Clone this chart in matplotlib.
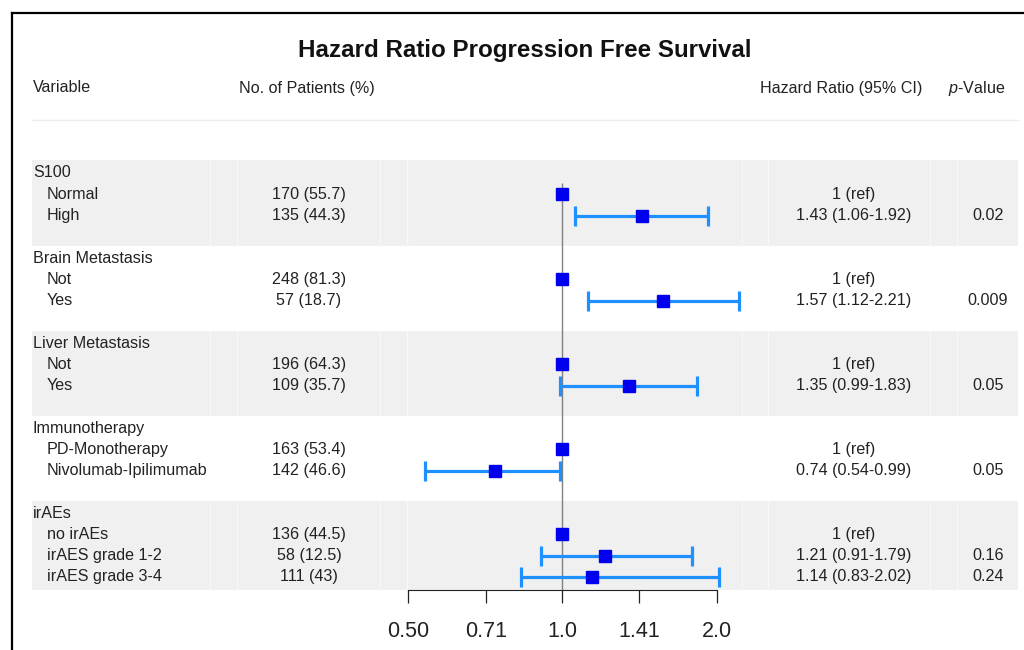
import numpy as np
import matplotlib
matplotlib.use("Agg")
from matplotlib import pyplot as plt
from matplotlib.lines import Line2D

plt.rcParams["font.family"] = ["Liberation Sans", "DejaVu Sans"]
plt.rcParams["mathtext.fontset"] = "custom"
plt.rcParams["mathtext.rm"] = "Liberation Sans"
plt.rcParams["mathtext.it"] = "Liberation Sans:italic"

# table content
groups = ["S100", "Brain Metastasis", "Liver Metastasis", "Immunotherapy", "irAEs"]
levels = [["Normal", "High"],
          ["Not", "Yes"],
          ["Not", "Yes"],
          ["PD-Monotherapy", "Nivolumab-Ipilimumab"],
          ["no irAEs", "irAES grade 1-2", "irAES grade 3-4"]]
patients = [["170 (55.7)", "135 (44.3)"],
            ["248 (81.3)", "57 (18.7)"],
            ["196 (64.3)", "109 (35.7)"],
            ["163 (53.4)", "142 (46.6)"],
            ["136 (44.5)", "58 (12.5)", "111 (43)"]]
# hazard ratios vs. the first (reference) level of each variable
hr = [[1.43], [1.57], [1.35], [0.74], [1.21, 1.14]]
hr_lo = [[1.06], [1.12], [0.99], [0.54], [0.91, 0.83]]
hr_hi = [[1.92], [2.21], [1.83], [0.99], [1.79, 2.02]]
pvals = [["0.02"], ["0.009"], ["0.05"], ["0.05"], ["0.16", "0.24"]]

xticks = [0.5, 0.71, 1.0, 1.41, 2.0]
xtick_labels = ["0.50", "0.71", "1.0", "1.41", "2.0"]

txt_color = "#222222"
band_color = "#f0f0f0"
ci_color = "#1e90ff"
pt_color = "#0000ee"
fs = 11.6

# row numbers: group label, its levels, then a blank row
rows = []
r = 0
for g, lv in zip(groups, levels):
    rows.append((r, list(range(r + 1, r + 1 + len(lv)))))
    r += len(lv) + 2
axis_row = rows[-1][1][-1] + 0.6

# y runs in row units, x in pixels across the figure
px_row = 21.26
y_top = -173 / px_row
y_bot = (650 - 173) / px_row

fig = plt.figure(figsize=(10.24, 6.5), dpi=100)
bg = fig.add_axes([0, 0, 1, 1])
bg.set_xlim(0, 1024)
bg.set_ylim(y_bot, y_top)
bg.axis("off")

# alternating group bands
for i, (r0, lv_rows) in enumerate(rows):
    top = r0 - (0.6 if i == 0 else 0.55)
    bottom = rows[i + 1][0] - 0.55 if i + 1 < len(rows) else axis_row
    if i % 2 == 0:
        bg.fill_between([32, 1018], top, bottom, color=band_color, lw=0, zorder=0)
        for xs in [210, 237, 380, 407, 742, 768, 930, 957]:
            bg.plot([xs, xs], [top, bottom], color="#f8f8f8", lw=0.8, zorder=0.5)

# outer frame (top and left edges)
bg.add_line(Line2D([12, 1024], [13 / px_row + y_top] * 2, color="black", lw=1.6))
bg.add_line(Line2D([12, 12], [13 / px_row + y_top, y_bot], color="black", lw=1.6))

# title and header
bg.text(525, (51 - 173) / px_row, "Hazard Ratio Progression Free Survival",
        ha="center", va="center", fontsize=17.4, fontweight="bold", color="#111111")
hy = (88 - 173) / px_row
bg.text(33, hy, "Variable", ha="left", va="center", fontsize=fs, color=txt_color)
bg.text(239, hy, "No. of Patients (%)", ha="left", va="center", fontsize=fs, color=txt_color)
bg.text(760, hy, "Hazard Ratio (95% CI)", ha="left", va="center", fontsize=fs, color=txt_color)
bg.text(948, hy, r"$p$-Value", ha="left", va="center", fontsize=fs, color=txt_color)
bg.plot([32, 1018], [(120 - 173) / px_row] * 2, color="#ececec", lw=1)

# text columns
for i, (r0, lv_rows) in enumerate(rows):
    bg.text(33, r0, groups[i], ha="left", va="center", fontsize=fs, color=txt_color)
    for j, rr in enumerate(lv_rows):
        bg.text(47, rr, levels[i][j], ha="left", va="center", fontsize=fs, color=txt_color)
        bg.text(309, rr, patients[i][j], ha="center", va="center", fontsize=fs, color=txt_color)
        if j == 0:
            hr_txt = "1 (ref)"
        else:
            hr_txt = "%.2f (%.2f-%.2f)" % (hr[i][j - 1], hr_lo[i][j - 1], hr_hi[i][j - 1])
            bg.text(988, rr, pvals[i][j - 1], ha="center", va="center", fontsize=fs, color=txt_color)
        bg.text(854, rr, hr_txt, ha="center", va="center", fontsize=fs, color=txt_color)

# forest panel, log2 scale
ax = fig.add_axes([407 / 1024, 0, 335 / 1024, 1], sharey=bg)
ax.patch.set_alpha(0)
ax.set_xscale("log", base=2)
ax.set_xlim(0.4978, 2.2375)
ax.set_ylim(y_bot, y_top)

ax.vlines(1.0, 0.45, axis_row, color="#808080", lw=1, zorder=1)
for i, (r0, lv_rows) in enumerate(rows):
    ax.plot(1.0, lv_rows[0], marker="s", ms=9, color=pt_color, ls="none", zorder=3)
    est_rows = lv_rows[1:]
    est = np.array(hr[i])
    err = np.array([est - np.array(hr_lo[i]), np.array(hr_hi[i]) - est])
    ax.errorbar(est, est_rows, xerr=err, fmt="none", ecolor=ci_color, elinewidth=2.3,
                capsize=7, capthick=2.3, zorder=2)
    ax.plot(est, est_rows, marker="s", ms=9, color=pt_color, ls="none", zorder=3)

for s in ["top", "right", "left"]:
    ax.spines[s].set_visible(False)
ax.spines["bottom"].set_position(("data", axis_row))
ax.spines["bottom"].set_bounds(xticks[0], xticks[-1])
ax.spines["bottom"].set_color("#222222")
ax.xaxis.set_minor_locator(matplotlib.ticker.NullLocator())
ax.set_xticks(xticks)
ax.set_xticklabels(xtick_labels)
ax.tick_params(axis="x", direction="out", length=9.5, width=0.9, pad=13,
               labelsize=15.5, colors="#222222")
ax.tick_params(axis="y", left=False, labelleft=False)

fig.savefig("out.png", dpi=100)
